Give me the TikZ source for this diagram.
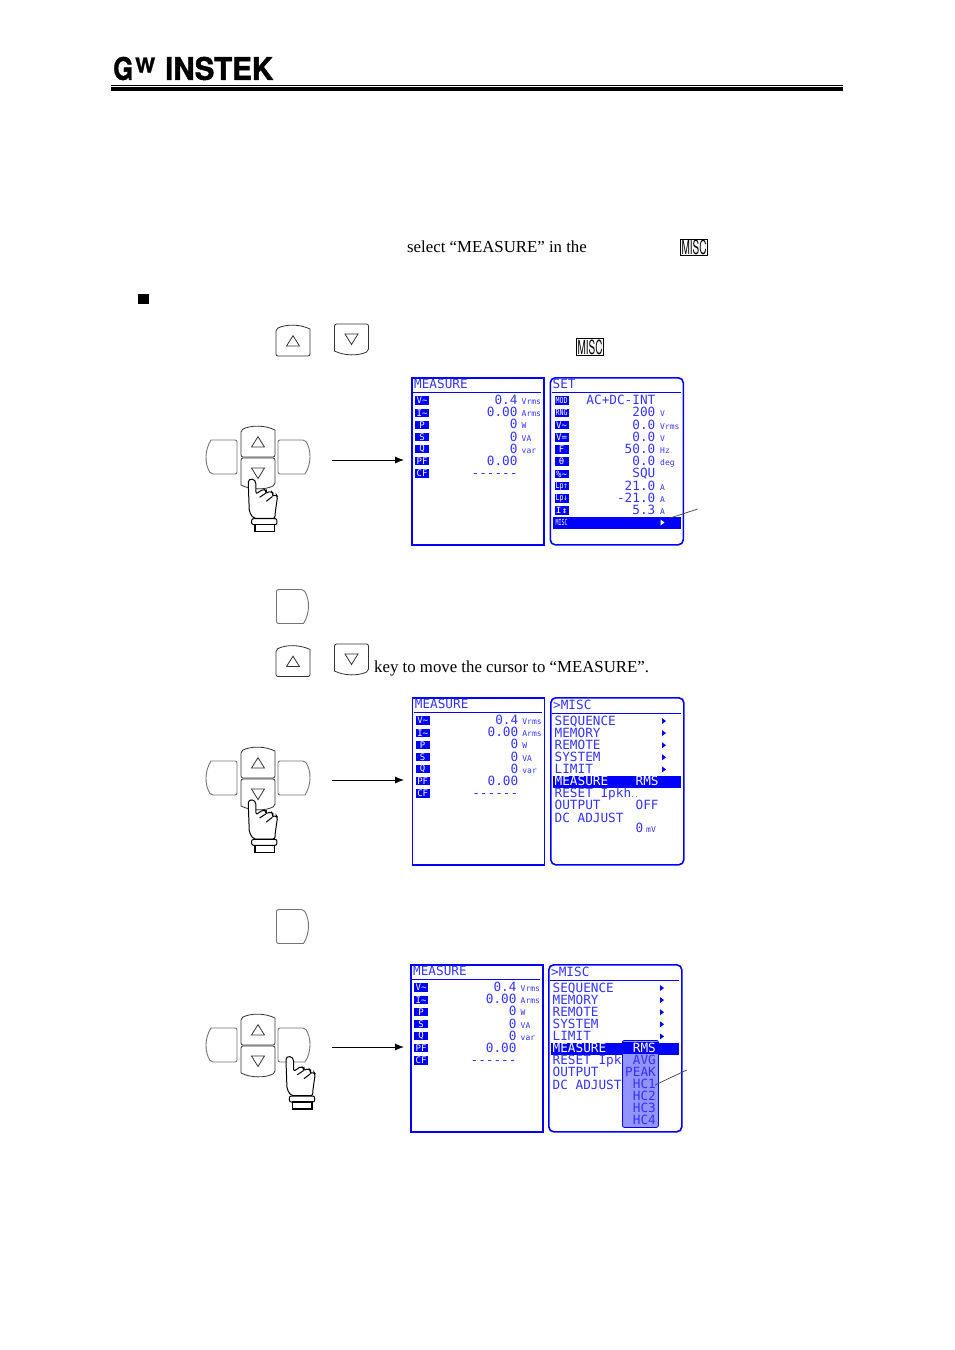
\documentclass[tikz,border=0pt]{standalone}
\usepackage{graphicx}
\usepackage{fontspec}
\setmainfont{Liberation Serif}
\newfontfamily\lcdfont{DejaVu Sans Mono}
\newfontfamily\logofont[FakeBold=1.5]{TeX Gyre Heros}
\newfontfamily\miscfont{TeX Gyre Heros}
\usetikzlibrary{arrows,arrows.meta,positioning,calc}
\definecolor{bleu}{rgb}{0,0,1}
\definecolor{bleutexte}{rgb}{0.2,0.2,1}
\definecolor{bleuclair}{rgb}{0.58,0.58,1}
\tikzset{
 lcd/.style={font=\lcdfont\fontsize{12.7}{14}\selectfont,text=bleutexte,inner sep=0pt,text height=9pt,text depth=0pt},
 unite/.style={font=\lcdfont\fontsize{8}{9}\selectfont,text=bleutexte,inner sep=0pt,text height=9pt,text depth=0pt},
 icone/.style={fill=bleu,text=white,inner sep=0pt,minimum width=14pt,minimum height=8.5pt,font=\lcdfont\fontsize{9}{9}\selectfont},
 cadreG/.style={draw=bleu,line width=1.6pt,minimum width=132pt,minimum height=167pt,inner sep=0pt},
 cadreD/.style={draw=bleu,line width=1.6pt,rounded corners=5pt,minimum width=133pt,minimum height=167pt,inner sep=0pt},
 filet/.style={draw=bleu,line width=0.7pt},
 barre/.style={fill=bleu,inner sep=0pt,minimum height=12pt},
 touche/.style={draw=black!80,line width=0.8pt,fill=white},
 cote/.style={draw=black!55,line width=0.9pt,fill=white},
 fleche/.style={-{Latex[length=9pt,width=7pt]},line width=0.9pt},
 renvoi/.style={draw=black!75,line width=0.7pt},
 main/.style={draw=black,line width=1pt,fill=white},
 texte/.style={inner sep=0pt,font=\fontsize{16.8}{18}\selectfont,anchor=west,text height=11pt,text depth=3pt},
 misc/.style={draw=black,line width=1pt,inner sep=0.6pt}
}
\newcommand{\etroit}[1]{\resizebox{12pt}{6.2pt}{#1}}
\newcommand{\tld}{\char"223C }
\newcommand{\motmisc}{\resizebox{25pt}{14.5pt}{\miscfont MISC}}
% touches
\newcommand{\toucheH}[2]{\begin{scope}[shift={(#1,#2)}]
\draw[touche] (0,5) .. controls (10,0) and (24,0) .. (34,5) [rounded corners=2pt] -- (34,32) -- (0,32) -- cycle;
\draw[touche] (10.5,22) -- (17,11.7) -- (23.5,22) -- cycle;
\end{scope}}
\newcommand{\toucheB}[2]{\begin{scope}[shift={(#1,#2)}]
\draw[touche] (34,27) .. controls (24,32) and (10,32) .. (0,27) [rounded corners=2pt] -- (0,0) -- (34,0) -- cycle;
\draw[touche] (10.5,10) -- (17,20.5) -- (23.5,10) -- cycle;
\end{scope}}
\newcommand{\toucheG}[2]{\begin{scope}[shift={(#1,#2)}]
\draw[cote] (5,34) .. controls (-1.5,24) and (-1.5,10) .. (5,0) [rounded corners=2pt] -- (31,0) -- (31,34) -- cycle;
\end{scope}}
\newcommand{\toucheD}[2]{\begin{scope}[shift={(#1,#2)}]
\draw[cote] (27,0) .. controls (33.5,10) and (33.5,24) .. (27,34) [rounded corners=2pt] -- (0,34) -- (0,0) -- cycle;
\end{scope}}
\newcommand{\main}[2]{\begin{scope}[shift={(#1,#2)},scale=0.3333]
\draw[main] (-12,14) .. controls (-12,-4) and (11,-4) .. (11,14) [rounded corners=2pt] -- (11,44) -- (33,29) -- (43,34) -- (40,42) -- (56,35) -- (63,42) -- (60,52) -- (71,45) -- (76,52) -- (73,69) -- (68,107) -- (68,117) -- (3,117) -- (-9,97) -- cycle;
\draw[main] (40,42) -- (22,54) (60,52) -- (42,66);
\draw[main,rounded corners=2pt] (-2,118) rectangle (74,136);
\draw[main,line width=1.3pt] (8,136) rectangle (66,157);
\end{scope}}
\newcommand{\clavier}[2]{\begin{scope}[shift={(#1,#2)}]
\toucheG{0}{15}
\toucheD{72}{15}
\toucheH{35}{0}
\toucheB{35}{33}
\end{scope}}
% ecrans
\newcommand{\ecranMesure}[3]{\begin{scope}[shift={(#2,#3)}]
\node (#1) at (0,0) [cadreG,anchor=north west] {};
\node (#1t) at (3,7) [lcd,anchor=west] {MEASURE};
\draw[filet] (2,15.7) -- (130,15.7);
\foreach \i/\ic/\val/\un in {0/V\tld/0.4/Vrms,1/I\tld/0.00/Arms,2/P/0/W,3/S/0/VA,4/Q/0/var,5/PF/0.00/,6/CF/------/}{
\node (#1i\i) at (11,{23.7+12.1*\i}) [icone] {\ic};
\node (#1v\i) at (106.7,{23.2+12.1*\i}) [lcd,anchor=east] {\val};
\node (#1u\i) at (110.5,{23.2+12.1*\i}) [unite,anchor=west] {\un};
}
\end{scope}}
\newcommand{\ecranSet}[3]{\begin{scope}[shift={(#2,#3)}]
\node (#1) at (0,0) [cadreD,anchor=north west] {};
\node (#1t) at (3,7) [lcd,anchor=west] {SET};
\draw[filet] (2,15.7) -- (131,15.7);
\node (#1b) at (3,145.5) [barre,anchor=west,minimum width=128pt] {};
\foreach \i/\ic/\val/\un in {0/\etroit{MOD}/AC+DC-INT/,1/\etroit{RNG}/200/V,2/V\tld/0.0/Vrms,3/V=/0.0/V,4/F/50.0/Hz,5/θ/0.0/deg,6/\%\tld/SQU/,7/\etroit{Lp↑}/21.0/A,8/\etroit{Lp↓}/-21.0/A,9/\etroit{I↕}/5.3/A,10/\etroit{MISC}//}{
\node (#1i\i) at (12,{23.7+12.2*\i}) [icone] {\ic};
\node (#1v\i) at (106,{23.2+12.2*\i}) [lcd,anchor=east] {\val};
\node (#1u\i) at (110.5,{23.2+12.2*\i}) [unite,anchor=west] {\un};
}
\fill[white] (111,142.5) -- (115,145.5) -- (111,148.5) -- cycle;
\end{scope}}
\newcommand{\ecranMisc}[4]{\begin{scope}[shift={(#2,#3)}]
\node (#1) at (0,0) [cadreD,anchor=north west] {};
\node (#1t) at (3,7.5) [lcd,anchor=west] {>MISC};
\draw[filet] (2,16) -- (131,16);
\node (#1b) at (3,84.7) [barre,anchor=west,minimum width=128pt] {};
\foreach \i/\txt in {0/SEQUENCE,1/MEMORY,2/REMOTE,3/SYSTEM,4/LIMIT}{
\node (#1l\i) at (4.5,{23.5+12.1*\i}) [lcd,anchor=west] {\txt};
\fill[bleu] (112,{21+12.1*\i}) -- (116,{24+12.1*\i}) -- (112,{27+12.1*\i}) -- cycle;
}
\node (#1l5) at (4.5,84.2) [lcd,anchor=west,text=white] {MEASURE};
\node (#1l6) at (4.5,96.3) [lcd,anchor=west] {#4};
\node (#1l7) at (4.5,108.4) [lcd,anchor=west] {OUTPUT};
\node (#1l8) at (4.5,120.5) [lcd,anchor=west] {DC ADJUST};
\end{scope}}
\begin{document}
\begin{tikzpicture}[x=1pt,y=-1pt]
\useasboundingbox (0,0) rectangle (954,1350);
% en-tete
\node (logoG) at (113,68.5) [anchor=west,inner sep=0pt] {\resizebox{20pt}{23pt}{\logofont\bfseries G}};
\node (logoW) at (135,65) [anchor=west,inner sep=0pt] {\resizebox{20pt}{15pt}{\logofont\bfseries W}};
\node (logoI) at (165,68.5) [anchor=west,inner sep=0pt] {\resizebox{108pt}{23pt}{\logofont\bfseries INSTEK}};
\coordinate (filA) at (111,85.3);
\coordinate (filB) at (843,85.3);
\coordinate (filC) at (111,88.8);
\coordinate (filD) at (843,88.8);
\draw[line width=0.8pt] (filA) -- (filB);
\draw[line width=4pt] (filC) -- (filD);
% texte
\node (select) at (407,248) [texte] {select “MEASURE” in the};
\node (miscA) at (694,247.5) [misc] {\motmisc};
\node (puce) at (143.5,299) [fill=black,inner sep=0pt,minimum size=10.5pt] {};
\toucheH{276}{324}
\toucheB{334.5}{324}
\node (miscB) at (590,347) [misc] {\motmisc};
% premier ecran
\clavier{206}{425}
\main{252.3}{479.3}
\ecranMesure{ma}{411}{377}
\ecranSet{sa}{549.5}{377}
\coordinate (da) at (332,460);
\coordinate (ga) at (404,460);
\draw[fleche] (da) -- (ga);
\coordinate (ra) at (697.7,509);
\coordinate (rb) at (669.3,518.3);
\draw[renvoi] (ra) -- (rb);
% deuxieme ecran
\toucheD{276.5}{589.5}
\toucheH{276}{644.5}
\toucheB{334.5}{644}
\node (cle) at (374,668) [texte] {key to move the cursor to “MEASURE”.};
\clavier{206}{746}
\main{252.3}{800}
\ecranMesure{mb}{411.7}{697}
\ecranMisc{sb}{550}{697}{RESET Ipkh{\fontsize{6}{6}\selectfont ..}}
\node (sbv5) at (635.5,781.2) [lcd,anchor=west,text=white] {RMS};
\node (sbv7) at (635.5,805.2) [lcd,anchor=west] {OFF};
\node (sbv8) at (635.5,827.5) [lcd,anchor=west] {0};
\node (sbu8) at (646,827.5) [unite,anchor=west] {mV};
\coordinate (db) at (332,780);
\coordinate (gb) at (404,780);
\draw[fleche] (db) -- (gb);
% troisieme ecran
\toucheD{276.5}{909.5}
\clavier{206}{1013}
\main{290}{1056.7}
\ecranMesure{mc}{410}{964}
\ecranMisc{sc}{548}{964}{RESET Ipk}
\node (popup) at (622,1040) [anchor=north west,draw=bleu,fill=bleuclair,line width=0.8pt,rounded corners=2pt,minimum width=36pt,minimum height=87pt,inner sep=0pt] {};
\node (popb) at (622.5,1048) [barre,anchor=west,minimum width=35pt] {};
\node (pop0) at (656,1047.5) [lcd,anchor=east,text=white] {RMS};
\foreach \i/\txt in {1/AVG,2/PEAK,3/HC1,4/HC2,5/HC3,6/HC4}{
\node (pop\i) at (656,{1047.5+12.15*\i}) [lcd,anchor=east] {\txt};
}
\coordinate (dc) at (332,1047);
\coordinate (gc) at (404,1047);
\draw[fleche] (dc) -- (gc);
\coordinate (rc) at (686.7,1070);
\coordinate (rd) at (655,1085);
\draw[renvoi] (rc) -- (rd);
\end{tikzpicture}
\end{document}
